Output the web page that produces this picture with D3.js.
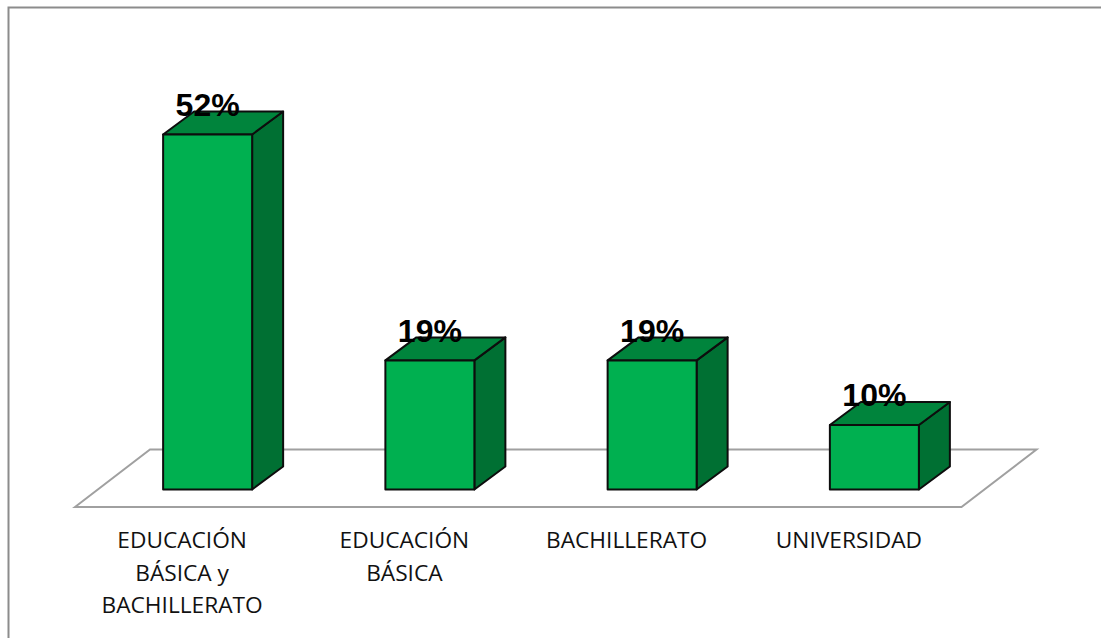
<!DOCTYPE html>
<html><head><meta charset="utf-8">
<script src="https://cdnjs.cloudflare.com/ajax/libs/d3/7.8.5/d3.min.js"></script>
<style>html,body{margin:0;padding:0;background:#fff}svg{display:block}</style>
</head><body><svg id="c" width="1101" height="638"></svg>
<script>
const categories = ["EDUCACIÓN BÁSICA y BACHILLERATO","EDUCACIÓN BÁSICA","BACHILLERATO","UNIVERSIDAD"];
const categoryLines = [["EDUCACIÓN","BÁSICA y","BACHILLERATO"],["EDUCACIÓN","BÁSICA"],["BACHILLERATO"],["UNIVERSIDAD"]];
const values = [52.38,19.05,19.05,9.52];
const valueLabels = ["52%","19%","19%","10%"];

const svg = d3.select("#c");
const dx = 31, dy = 23;
const base = 489.5;
const bandW = 89;
const x = d3.scaleBand().domain(categories).range([96.5,985.5]);
const cx = c => x(c) + x.bandwidth()/2;
const y = d3.scaleLinear().domain([0,52.38]).range([base,134.5]);

svg.append("path").attr("d","M8.5,638V7.5H1101").attr("fill","none").attr("stroke","#8c8c8c").attr("stroke-width",2);

// floor
svg.append("path").attr("d","M75,507L150,449.5H1036.5L961.5,507Z").attr("fill","#fff").attr("stroke","#a0a0a0").attr("stroke-width",2);

const g = svg.selectAll("g.bar").data(categories).join("g").attr("class","bar");
g.each(function(c,i){
  const s = d3.select(this);
  const x0 = cx(c)-bandW/2, x1 = x0+bandW, t = y(values[i]);
  const st = {stroke:"#0d0d0d","stroke-width":2,"stroke-linejoin":"round"};
  const poly = (d,f)=>{const p=s.append("path").attr("d",d).attr("fill",f);for(const k in st)p.attr(k,st[k]);};
  poly(`M${x1},${t}L${x1+dx},${t-dy}V${base-dy}L${x1},${base}Z`,"#007033");
  poly(`M${x0},${t}L${x0+dx},${t-dy}H${x1+dx}L${x1},${t}Z`,"#00843c");
  poly(`M${x0},${t}H${x1}V${base}H${x0}Z`,"#00b050");
});
svg.selectAll("text.val").data(categories).join("text").attr("class","val")
  .attr("x",c=>cx(c)).attr("y",(c,i)=>y(values[i])-18.5)
  .attr("text-anchor","middle").attr("font-family","Liberation Sans").attr("font-weight","bold").attr("font-size",32).attr("fill","#000")
  .text((c,i)=>valueLabels[i]);
const lab = svg.selectAll("text.cat").data(categories).join("text").attr("class","cat")
  .attr("text-anchor","middle").attr("font-family","Open Sans").attr("font-size",22.7).attr("fill","#111");
lab.each(function(c,i){
  d3.select(this).selectAll("tspan").data(categoryLines[i]).join("tspan")
    .attr("x",cx(c)-25.5).attr("y",(d,j)=>548+j*32.5).text(d=>d);
});
</script></body></html>
